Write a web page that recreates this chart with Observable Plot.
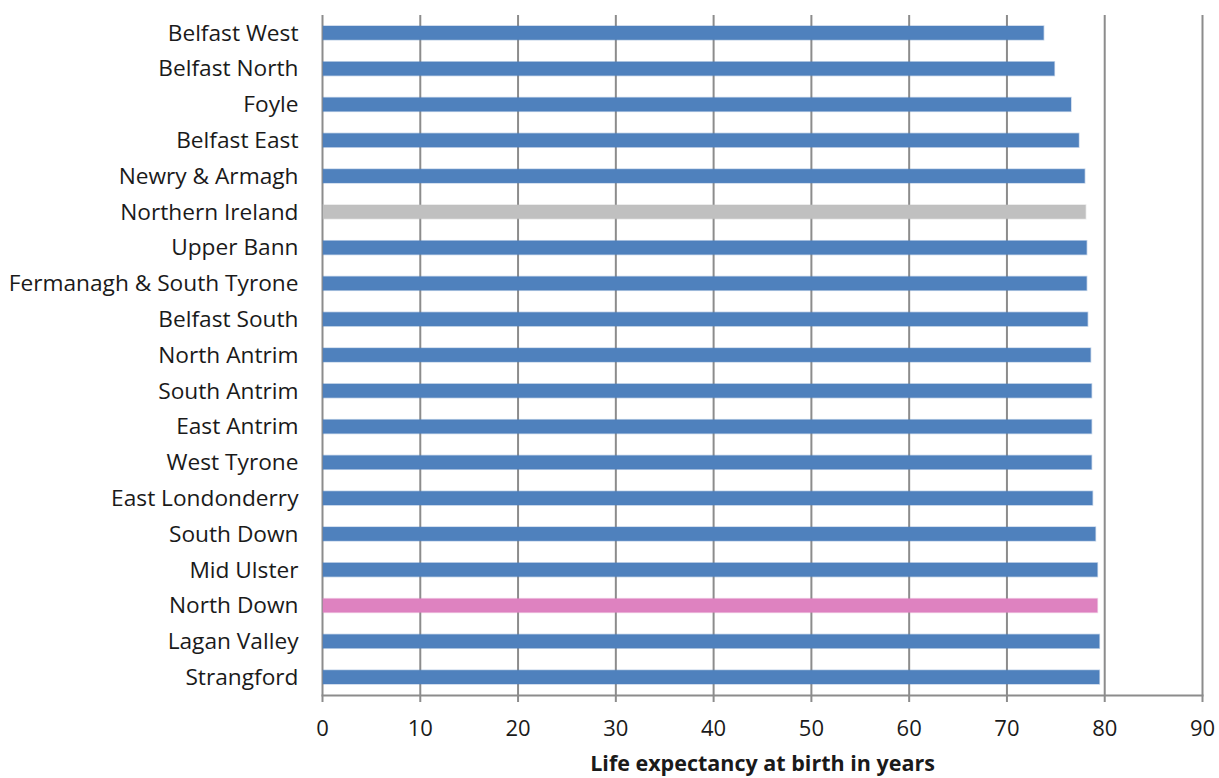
<!DOCTYPE html>
<html>
<head>
<meta charset="utf-8">
<script src="https://cdn.jsdelivr.net/npm/d3@7"></script>
<script src="https://cdn.jsdelivr.net/npm/@observablehq/plot@0.6"></script>
<style>
  html, body { margin: 0; padding: 0; background: #fff; }
  #chart svg { display: block; }
</style>
</head>
<body>
<div id="chart"></div>
<script>
const constituencies = [
  "Belfast West", "Belfast North", "Foyle", "Belfast East", "Newry & Armagh",
  "Northern Ireland", "Upper Bann", "Fermanagh & South Tyrone", "Belfast South",
  "North Antrim", "South Antrim", "East Antrim", "West Tyrone", "East Londonderry",
  "South Down", "Mid Ulster", "North Down", "Lagan Valley", "Strangford"
];
const lifeExpectancy = [
  73.8, 74.9, 76.6, 77.4, 78.0,
  78.1, 78.2, 78.2, 78.3,
  78.6, 78.7, 78.7, 78.7, 78.8,
  79.1, 79.3, 79.3, 79.5, 79.5
];
const xTicks = [0, 10, 20, 30, 40, 50, 60, 70, 80, 90];
const xTitle = "Life expectancy at birth in years";
const averageName = "Northern Ireland";
const highlightName = "North Down";

const colorFor = name => name === averageName ? "#C0C0C0" : name === highlightName ? "#DE82C0" : "#4F81BD";
const data = constituencies.map((name, i) => ({name, value: lifeExpectancy[i], color: colorFor(name)}));

const chart = Plot.plot({
  width: 1219,
  height: 778,
  marginLeft: 322,
  marginRight: 17,
  marginTop: 15,
  marginBottom: 83,
  style: {fontFamily: "'Open Sans', sans-serif", fontSize: "22px", color: "#1a1a1a", background: "#fff"},
  x: {domain: [0, 90]},
  y: {domain: constituencies, padding: 0, round: false},
  marks: [
    Plot.ruleX(xTicks, {stroke: "#8C8C8C", strokeWidth: 2}),
    Plot.barX(data, {y: "name", x: "value", fill: "color", stroke: d => d.color, strokeOpacity: 0.35, strokeWidth: 1.5, insetLeft: 1, insetTop: 11, insetBottom: 11}),
    Plot.frame({anchor: "bottom", stroke: "#8C8C8C", strokeWidth: 2}),
    Plot.axisX({ticks: xTicks, tickSize: 7, tickPadding: 18, tickFormat: d => String(d), label: null, stroke: "#8C8C8C", strokeWidth: 2, strokeOpacity: 1, fontSize: 22}),
    Plot.axisY({tickSize: 0, tickPadding: 24, label: null, fontSize: 22.7}),
    Plot.text([xTitle], {frameAnchor: "bottom", dy: 75, fontWeight: "bold", fontSize: 21.5, fill: "#1a1a1a"})
  ]
});
document.getElementById("chart").appendChild(chart);
</script>
</body>
</html>
